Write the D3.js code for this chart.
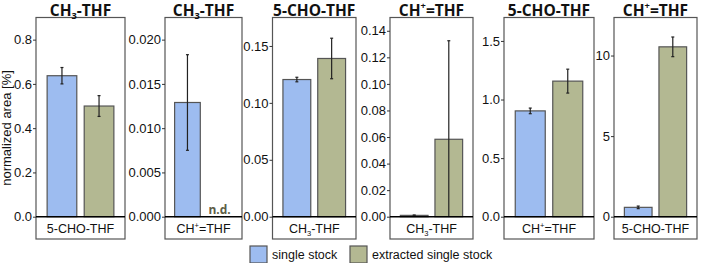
<!DOCTYPE html>
<html>
<head>
<meta charset="utf-8">
<script src="https://cdn.jsdelivr.net/npm/d3@7"></script>
<style>
  body { margin: 0; background: #fff; }
  svg { display: block; font-family: "Liberation Sans", Arial, sans-serif; }
  .tick text { font-size: 13px; fill: #111; }
</style>
</head>
<body>
<div id="chart"></div>
<script>
// Panel titles ( _ = subscript, ^ = superscript )
const titles = ["CH_3-THF", "CH_3-THF", "5-CHO-THF", "CH^+=THF", "5-CHO-THF", "CH^+=THF"];
const categories = ["5-CHO-THF", "CH^+=THF", "CH_3-THF", "CH_3-THF", "CH^+=THF", "5-CHO-THF"];
const series = ["single stock", "extracted single stock"];

// values (null = n.d.)
const singleStock = [0.637, 0.0129, 0.1205, 0.0010, 0.903, 0.58];
const singleErr = [0.037, 0.0054, 0.002, 0.0003, 0.024, 0.08];
const extracted = [0.500, null, 0.139, 0.0583, 1.157, 10.54];
const extractedErr = [0.047, null, 0.0178, 0.0742, 0.102, 0.61];

const yMax = [0.9, 0.0225, 0.175, 0.150, 1.70, 12.36];
const yTicks = [
  [0, 0.2, 0.4, 0.6, 0.8],
  [0, 0.005, 0.010, 0.015, 0.020],
  [0, 0.05, 0.10, 0.15],
  [0, 0.02, 0.04, 0.06, 0.08, 0.10, 0.12, 0.14],
  [0, 0.5, 1.0, 1.5],
  [0, 5, 10]
];
const tickFormats = [".1f", ".3f", ".2f", ".2f", ".1f", "d"];

// panel frame edges (x left, x right)
const frames = [[36, 125], [165, 242], [272.5, 356], [390, 473], [504, 594], [614, 697]];

const colors = ["#9dbcf0", "#b3b892"];
const edge = "#555";

const W = 708, H = 263;
const plotTop = 17.5, zero = 216.7, plotBottom = 239;

const svg = d3.select("#chart").append("svg")
  .attr("width", W).attr("height", H);

// write a label with sub/superscript markup into a text element
function richText(sel, s) {
  const m = s.match(/^(.*?)([_^])(.)(.*)$/);
  if (!m) { sel.text(s); return; }
  const fs = parseFloat(sel.attr("font-size")) || 13;
  sel.append("tspan").text(m[1]);
  sel.append("tspan")
    .attr("font-size", fs * 0.6)
    .attr("dy", m[2] === "_" ? fs * 0.25 : -fs * 0.4)
    .text(m[3]);
  sel.append("tspan")
    .attr("dy", m[2] === "_" ? -fs * 0.25 : fs * 0.4)
    .text(m[4]);
}

titles.forEach((title, i) => {
  const [x0, x1] = frames[i];
  const g = svg.append("g");

  const y = d3.scaleLinear().domain([0, yMax[i]]).range([zero, plotTop]);
  const x = d3.scaleBand().domain(series).range([x0, x1])
    .paddingInner(0.2).paddingOuter(0.3);

  // frame
  g.append("rect")
    .attr("x", x0).attr("y", plotTop)
    .attr("width", x1 - x0).attr("height", plotBottom - plotTop)
    .attr("fill", "none").attr("stroke", edge).attr("stroke-width", 1.2);

  // bars
  const vals = [
    { s: series[0], v: singleStock[i], e: singleErr[i], c: colors[0] },
    { s: series[1], v: extracted[i], e: extractedErr[i], c: colors[1] }
  ];
  vals.forEach(d => {
    if (d.v === null) {
      g.append("text")
        .attr("x", x(d.s) + x.bandwidth() / 2)
        .attr("y", zero - 3)
        .attr("text-anchor", "middle")
        .attr("font-family", "'Open Sans', sans-serif")
        .attr("font-weight", "bold")
        .attr("font-size", 12)
        .attr("fill", "#5d5d45")
        .text("n.d.");
      return;
    }
    g.append("rect")
      .attr("x", x(d.s)).attr("y", y(d.v))
      .attr("width", x.bandwidth()).attr("height", zero - y(d.v))
      .attr("fill", d.c).attr("stroke", edge).attr("stroke-width", 1.2);
    const cx = x(d.s) + x.bandwidth() / 2;
    const lo = Math.max(0, d.v - d.e), hi = d.v + d.e;
    g.append("line")
      .attr("x1", cx).attr("x2", cx)
      .attr("y1", y(lo)).attr("y2", y(hi))
      .attr("stroke", "#222").attr("stroke-width", 1.2);
    [lo, hi].forEach(v => {
      if (v === 0) return;
      g.append("line")
        .attr("x1", cx - 1.5).attr("x2", cx + 1.5)
        .attr("y1", y(v)).attr("y2", y(v))
        .attr("stroke", "#222").attr("stroke-width", 1.2);
    });
  });

  // y axis
  const ax = g.append("g")
    .attr("transform", `translate(${x0},0)`)
    .call(d3.axisLeft(y).tickValues(yTicks[i]).tickFormat(d3.format(tickFormats[i]))
      .tickSize(3).tickPadding(1));
  ax.select(".domain").remove();
  ax.selectAll(".tick line").attr("stroke", "#333");
  ax.selectAll(".tick text").attr("font-family", "'Liberation Sans', Arial, sans-serif");

  // zero baseline
  g.append("line")
    .attr("x1", x0).attr("x2", x1)
    .attr("y1", zero).attr("y2", zero)
    .attr("stroke", "#000").attr("stroke-width", 1.6);

  // category label
  g.append("text")
    .attr("x", (x0 + x1) / 2).attr("y", 233)
    .attr("text-anchor", "middle")
    .attr("font-size", 12.5)
    .attr("fill", "#111")
    .call(t => richText(t, categories[i]));

  // title
  g.append("text")
    .attr("x", (x0 + x1) / 2).attr("y", 15.5)
    .attr("text-anchor", "middle")
    .attr("font-family", "'Open Sans', sans-serif")
    .attr("font-weight", "bold")
    .attr("font-size", 15.5)
    .attr("fill", "#111")
    .call(t => richText(t, title));
});

// y axis label
svg.append("text")
  .attr("transform", "translate(11,128) rotate(-90)")
  .attr("text-anchor", "middle")
  .attr("font-size", 13)
  .attr("fill", "#111")
  .text("normalized area [%]");

// legend
const legendX = [250, 350];
series.forEach((s, i) => {
  svg.append("rect")
    .attr("x", legendX[i]).attr("y", 246)
    .attr("width", 17).attr("height", 17)
    .attr("fill", colors[i]).attr("stroke", edge).attr("stroke-width", 1.2);
  svg.append("text")
    .attr("x", legendX[i] + 22).attr("y", 258.5)
    .attr("font-size", 12.5)
    .attr("fill", "#111")
    .text(s);
});
</script>
</body>
</html>
